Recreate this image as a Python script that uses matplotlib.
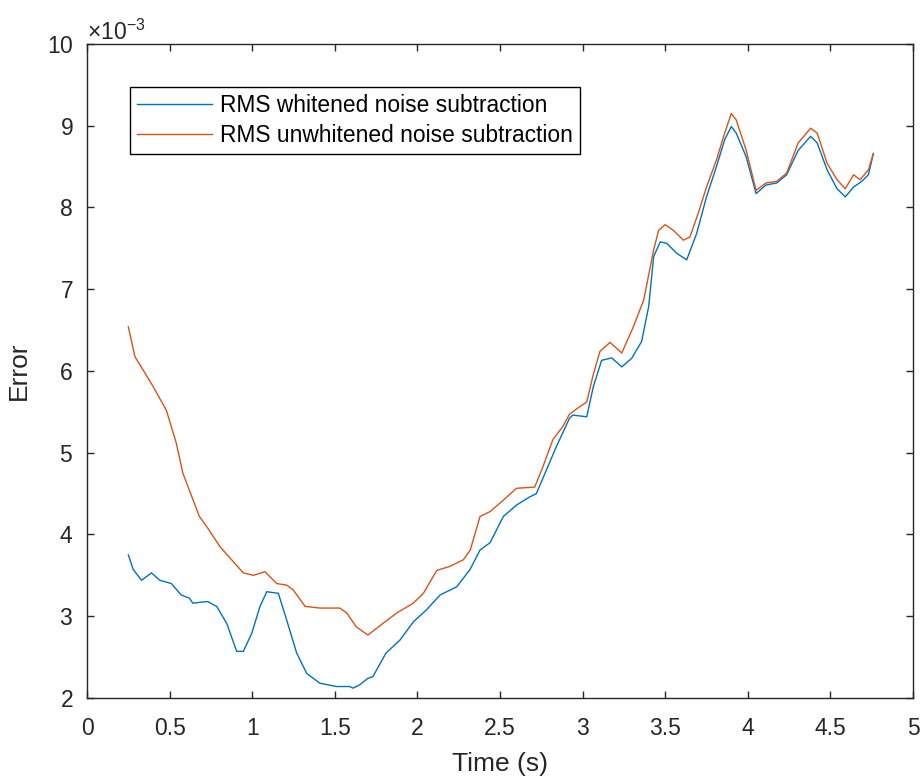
import numpy as np
import matplotlib.pyplot as plt
from matplotlib.ticker import ScalarFormatter, FormatStrFormatter

# error values below are in units of 1e-3
t_white = [0.25, 0.28, 0.33, 0.39, 0.44, 0.51, 0.57, 0.62, 0.64, 0.73, 0.785,
           0.846, 0.906, 0.946, 0.997, 1.047, 1.088, 1.158, 1.209, 1.269, 1.33,
           1.41, 1.51, 1.59, 1.61, 1.65, 1.70, 1.73, 1.81, 1.895, 1.975, 2.056,
           2.137, 2.238, 2.318, 2.379, 2.44, 2.52, 2.60, 2.68, 2.72, 2.76, 2.84,
           2.92, 2.94, 3.025, 3.065, 3.115, 3.176, 3.237, 3.297, 3.357, 3.40,
           3.43, 3.47, 3.51, 3.57, 3.63, 3.69, 3.75, 3.81, 3.86, 3.90, 3.93,
           3.99, 4.05, 4.11, 4.175, 4.235, 4.305, 4.38, 4.42, 4.48, 4.54, 4.59,
           4.64, 4.69, 4.73, 4.76]
e_white = [3.75, 3.57, 3.44, 3.53, 3.44, 3.40, 3.26, 3.22, 3.16, 3.18, 3.12,
           2.91, 2.57, 2.57, 2.79, 3.12, 3.30, 3.28, 2.95, 2.55, 2.30,
           2.18, 2.14, 2.14, 2.12, 2.16, 2.24, 2.26, 2.55, 2.71, 2.93, 3.08,
           3.26, 3.36, 3.57, 3.81, 3.90, 4.22, 4.36, 4.46, 4.50, 4.69, 5.07,
           5.42, 5.46, 5.44, 5.81, 6.13, 6.16, 6.05, 6.155, 6.36, 6.79,
           7.40, 7.58, 7.56, 7.44, 7.36, 7.68, 8.13, 8.50, 8.83, 8.99, 8.91,
           8.62, 8.17, 8.275, 8.30, 8.40, 8.70, 8.87, 8.79, 8.46, 8.23, 8.13,
           8.25, 8.32, 8.40, 8.66]

t_unwhite = [0.25, 0.29, 0.34, 0.40, 0.48, 0.54, 0.58, 0.68, 0.73, 0.805,
             0.946, 1.007, 1.077, 1.148, 1.209, 1.249, 1.32, 1.41, 1.53, 1.572,
             1.63, 1.70, 1.79, 1.875, 1.975, 2.036, 2.117, 2.197, 2.278, 2.32,
             2.379, 2.44, 2.52, 2.60, 2.71, 2.76, 2.82, 2.88, 2.92, 2.98, 3.025,
             3.065, 3.105, 3.166, 3.237, 3.307, 3.37, 3.43, 3.46, 3.50, 3.55,
             3.61, 3.65, 3.70, 3.75, 3.81, 3.86, 3.90, 3.93, 3.99, 4.05, 4.11,
             4.175, 4.235, 4.305, 4.38, 4.42, 4.48, 4.54, 4.59, 4.64, 4.68,
             4.73, 4.76]
e_unwhite = [6.54, 6.175, 6.01, 5.81, 5.52, 5.12, 4.75, 4.22, 4.08, 3.85,
             3.53, 3.50, 3.545, 3.40, 3.38, 3.32, 3.12, 3.10, 3.10, 3.04,
             2.87, 2.77, 2.91, 3.04, 3.16, 3.28, 3.56, 3.61, 3.69, 3.81,
             4.22, 4.28, 4.42, 4.565, 4.58, 4.83, 5.16, 5.32, 5.47, 5.56, 5.62,
             5.96, 6.24, 6.35, 6.22, 6.54, 6.87, 7.48, 7.72, 7.79, 7.72,
             7.60, 7.64, 7.93, 8.25, 8.58, 8.91, 9.15, 9.07, 8.70, 8.21, 8.30,
             8.32, 8.42, 8.79, 8.97, 8.91, 8.54, 8.34, 8.23, 8.40, 8.34,
             8.46, 8.66]

labels = ['RMS whitened noise subtraction', 'RMS unwhitened noise subtraction']
colors = ['#0072BD', '#D95319']
axis_grey = '#262626'

plt.rcParams['font.family'] = ['Liberation Sans', 'DejaVu Sans']
plt.rcParams['mathtext.fontset'] = 'custom'
plt.rcParams['mathtext.rm'] = 'Liberation Sans'
plt.rcParams['mathtext.it'] = 'Liberation Sans'

fig = plt.figure(figsize=(9.24, 7.83), dpi=100)
ax = fig.add_axes([0.0942, 0.1086, 0.8939, 0.8352])

ax.plot(t_white, np.array(e_white) * 1e-3, color=colors[0], lw=1.0, label=labels[0])
ax.plot(t_unwhite, np.array(e_unwhite) * 1e-3, color=colors[1], lw=1.0, label=labels[1])

ax.set_xlim(0, 5)
ax.set_ylim(2e-3, 10e-3)
ax.set_xticks(np.arange(0, 5.01, 0.5))
ax.set_yticks(np.arange(2e-3, 10.01e-3, 1e-3))
ax.xaxis.set_major_formatter(FormatStrFormatter('%g'))

# fixed x10^-3 multiplier on the y axis
fmt = ScalarFormatter(useMathText=True)
fmt.set_powerlimits((-3, -3))
ax.yaxis.set_major_formatter(fmt)
ax.yaxis.get_offset_text().set_fontsize(16.5)
ax.yaxis.get_offset_text().set_color(axis_grey)

ax.tick_params(direction='in', length=5, width=1, top=True, right=True,
               labelsize=16.5, colors=axis_grey)
ax.tick_params(axis='y', pad=10)
ax.tick_params(axis='x', pad=13.5)
for s in ax.spines.values():
    s.set_color(axis_grey)
    s.set_linewidth(1)

ax.set_xlabel('Time (s)', fontsize=19, color=axis_grey, labelpad=9)
ax.set_ylabel('Error', fontsize=19, color=axis_grey, labelpad=11)

leg = ax.legend(loc='upper left', bbox_to_anchor=(0.052, 0.934), borderaxespad=0,
                fontsize=16.4, fancybox=False, framealpha=1, edgecolor='black',
                handlelength=3.3, handletextpad=0.35, labelspacing=0.3,
                borderpad=0.3)
leg.get_frame().set_linewidth(1)
for txt in leg.get_texts():
    txt.set_color('black')

fig.savefig('out.png', dpi=100, facecolor='white')
